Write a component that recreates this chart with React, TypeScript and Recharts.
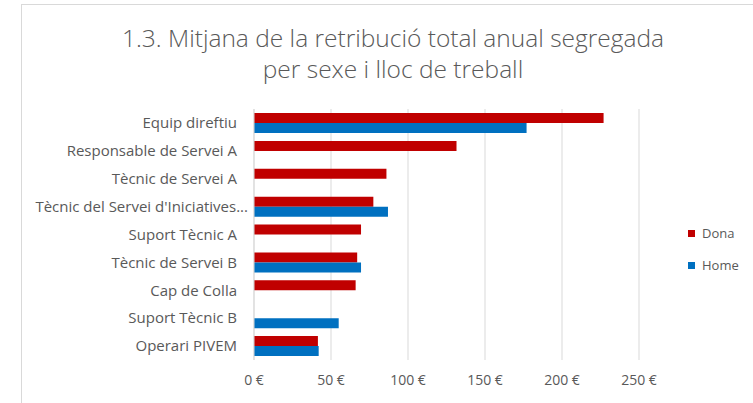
import React from 'react'
import {
  BarChart,
  Bar,
  XAxis,
  YAxis,
  CartesianGrid,
  Legend
} from 'recharts'

// categories, top to bottom
const llocs = [
  'Equip direftiu',
  'Responsable de Servei A',
  'Tècnic de Servei A',
  "Tècnic del Servei d'Iniciatives...",
  'Suport Tècnic A',
  'Tècnic de Servei B',
  'Cap de Colla',
  'Suport Tècnic B',
  'Operari PIVEM'
]

const dona = [227, 131.5, 86, 77.5, 69.5, 67, 66, null, 41.5]
const home = [177, null, null, 87, null, 69.5, null, 55, 42]

const xTicks = [0, 50, 100, 150, 200, 250]

const data = llocs.map((lloc, i) => ({ lloc, dona: dona[i], home: home[i] }))

const FONT = '"Open Sans", sans-serif'
const GREY = '#595959'
const RED = '#c00000'
const BLUE = '#0070c0'

function LegendBox() {
  const items = [
    { label: 'Dona', color: RED },
    { label: 'Home', color: BLUE }
  ]
  return (
    <div style={{ fontFamily: FONT, fontSize: 13, color: GREY }}>
      {items.map((it) => (
        <div
          key={it.label}
          style={{ display: 'flex', alignItems: 'center', height: 32 }}
        >
          <span
            style={{
              display: 'inline-block',
              width: 7,
              height: 7,
              background: it.color,
              marginRight: 7
            }}
          />
          {it.label}
        </div>
      ))}
    </div>
  )
}

// Excel lets the truncated label run a bit past the others
function CatTick(props: any) {
  const { x, y, payload } = props
  const long = String(payload.value).endsWith('...')
  return (
    <text
      x={long ? x + 11 : x}
      y={y}
      dy="0.355em"
      textAnchor="end"
      fill={GREY}
      fontSize={15}
      fontFamily={FONT}
    >
      {payload.value}
    </text>
  )
}

export default function App() {
  return (
    <div
      style={{
        position: 'absolute',
        left: 0,
        top: 0,
        width: 753,
        height: 403,
        overflow: 'hidden',
        background: '#fff'
      }}
    >
      {/* chart frame */}
      <div
        style={{
          position: 'absolute',
          left: 21,
          top: 4,
          width: 760,
          height: 420,
          border: '1px solid #d9d9d9'
        }}
      />
      <div
        style={{
          position: 'absolute',
          left: 21,
          top: 22,
          width: 744,
          textAlign: 'center',
          fontFamily: FONT,
          fontSize: 24.5,
          lineHeight: '31px',
          color: GREY,
          fontWeight: 300
        }}
      >
        1.3. Mitjana de la retribució total anual segregada
        <br />
        per sexe i lloc de treball
      </div>
      <div style={{ position: 'absolute', left: 0, top: 0 }}>
        <BarChart
          width={753}
          height={403}
          data={data}
          layout="vertical"
          margin={{ top: 109, right: 114, bottom: 13, left: 0 }}
          barSize={10}
          barGap={0}
        >
          <CartesianGrid horizontal={false} stroke="#d9d9d9" />
          <XAxis
            type="number"
            domain={[0, 250]}
            ticks={xTicks}
            height={30}
            axisLine={false}
            tickLine={false}
            tickSize={0}
            tickMargin={15}
            tickFormatter={(v: number) => `${v} €`}
            tick={{ fill: GREY, fontSize: 14, fontFamily: FONT }}
          />
          <YAxis
            type="category"
            dataKey="lloc"
            width={254}
            axisLine={{ stroke: '#d9d9d9' }}
            tickLine={false}
            tickSize={0}
            tickMargin={17}
            interval={0}
            tick={<CatTick />}
          />
          <Legend
            layout="horizontal"
            verticalAlign="middle"
            align="center"
            wrapperStyle={{ left: 688, top: 217, width: 70 }}
            content={() => <LegendBox />}
          />
          <Bar dataKey="dona" name="Dona" fill={RED} isAnimationActive={false} />
          <Bar dataKey="home" name="Home" fill={BLUE} isAnimationActive={false} />
        </BarChart>
      </div>
    </div>
  )
}
